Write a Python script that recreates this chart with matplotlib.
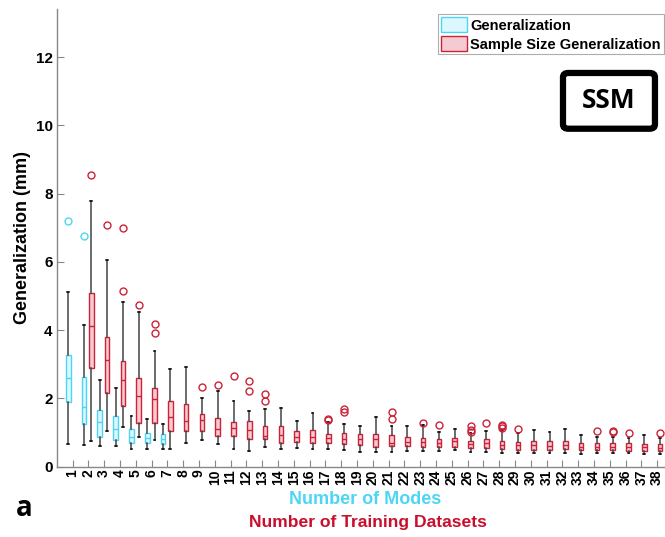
import matplotlib
matplotlib.use('Agg')
import matplotlib.pyplot as plt
from matplotlib.patches import Patch, FancyBboxPatch

# Generalization vs number of modes (cyan)
modes = [1, 2, 3, 4, 5, 6, 7]
gen_whislo = [0.66, 0.64, 0.61, 0.61, 0.51, 0.51, 0.51]
gen_q1 = [1.89, 1.24, 0.88, 0.78, 0.69, 0.69, 0.66]
gen_med = [2.59, 1.74, 1.32, 1.10, 0.86, 0.83, 0.80]
gen_q3 = [3.27, 2.62, 1.66, 1.50, 1.10, 1.00, 0.95]
gen_whishi = [5.13, 4.15, 2.54, 2.31, 1.49, 1.39, 1.24]
gen_fliers = [[7.20], [6.75], [], [], [], [], []]

# Sample size generalization vs number of training datasets (red)
datasets = list(range(2, 39))
ss_whislo = [0.76, 1.05, 1.17, 0.88, 0.78, 0.51, 0.69, 0.78, 0.66, 0.51, 0.45, 0.57,
             0.51, 0.55, 0.51, 0.51, 0.49, 0.43, 0.44, 0.44, 0.46, 0.46, 0.46, 0.48,
             0.43, 0.43, 0.41, 0.39, 0.41, 0.39, 0.39, 0.38, 0.39, 0.39, 0.39, 0.38, 0.37]
ss_q1 = [2.88, 2.15, 1.78, 1.27, 1.29, 1.05, 1.04, 1.05, 0.90, 0.90, 0.80, 0.81,
         0.70, 0.72, 0.69, 0.69, 0.66, 0.63, 0.59, 0.60, 0.61, 0.59, 0.59, 0.58,
         0.56, 0.54, 0.53, 0.49, 0.49, 0.49, 0.51, 0.49, 0.48, 0.48, 0.47, 0.46, 0.45]
ss_med = [4.12, 3.12, 2.54, 2.08, 1.97, 1.47, 1.33, 1.38, 1.10, 1.14, 1.08, 0.90,
          0.93, 0.86, 0.88, 0.83, 0.80, 0.80, 0.80, 0.69, 0.72, 0.72, 0.70, 0.75,
          0.67, 0.69, 0.64, 0.63, 0.63, 0.61, 0.64, 0.59, 0.59, 0.58, 0.59, 0.57, 0.56]
ss_q3 = [5.08, 3.79, 3.10, 2.59, 2.30, 1.93, 1.83, 1.53, 1.42, 1.32, 1.34, 1.20,
         1.19, 1.06, 1.07, 0.95, 0.98, 0.95, 0.96, 0.92, 0.88, 0.85, 0.80, 0.84,
         0.75, 0.80, 0.76, 0.72, 0.75, 0.74, 0.76, 0.69, 0.69, 0.69, 0.69, 0.67, 0.66]
ss_whishi = [7.79, 6.06, 4.84, 4.54, 3.40, 2.85, 2.92, 2.00, 2.22, 1.93, 1.62, 1.68,
             1.71, 1.33, 1.56, 1.32, 1.24, 1.20, 1.47, 1.18, 1.18, 1.22, 1.03, 1.11,
             0.98, 1.05, 1.08, 0.98, 1.08, 1.01, 1.10, 0.92, 0.86, 0.86, 0.85, 0.92, 0.84]
ss_fliers = [[8.56], [7.09], [5.16, 7.00], [4.75], [3.92, 4.19], [], [], [2.33], [2.39],
             [2.66], [2.23, 2.52], [1.93, 2.14], [], [], [], [1.38, 1.40], [1.60, 1.68],
             [], [], [1.40, 1.59], [], [1.29], [1.22], [], [1.03, 1.08, 1.18], [1.28],
             [1.13, 1.18, 1.23], [1.10], [], [], [], [], [1.05], [1.01, 1.04], [1.00],
             [], [0.99]]

tick_labels = [str(i) for i in range(1, 39)]

CYAN_EDGE = '#4dd6f4'
CYAN_FACE = '#dcf7fd'
RED_EDGE = '#cc2238'
RED_FACE = '#f5cad1'
WHISK = '#444444'

plt.rcParams['font.family'] = ['Liberation Sans', 'DejaVu Sans']
plt.rcParams['font.weight'] = 'bold'


def make_stats(lo, q1, med, q3, hi, fl):
    return [dict(whislo=a, q1=b, med=c, q3=d, whishi=e, fliers=f)
            for a, b, c, d, e, f in zip(lo, q1, med, q3, hi, fl)]


def draw(ax, stats, pos, edge, face):
    ax.bxp(stats, positions=pos, widths=0.3, capwidths=0.12, patch_artist=True,
           showfliers=True, manage_ticks=False,
           boxprops=dict(facecolor=face, edgecolor=edge, linewidth=1.0),
           medianprops=dict(color=edge, linewidth=1.0),
           whiskerprops=dict(color=WHISK, linewidth=1.1),
           capprops=dict(color='black', linewidth=1.1),
           flierprops=dict(marker='o', markerfacecolor='none', markeredgecolor=edge,
                           markersize=5, markeredgewidth=1.0))


fig = plt.figure(figsize=(6.65, 5.37), dpi=100)
ax = fig.add_axes([0.0853, 0.1309, 0.9147, 0.8529])

draw(ax, make_stats(gen_whislo, gen_q1, gen_med, gen_q3, gen_whishi, gen_fliers),
     [m - 0.27 for m in modes], CYAN_EDGE, CYAN_FACE)
draw(ax, make_stats(ss_whislo, ss_q1, ss_med, ss_q3, ss_whishi, ss_fliers),
     [d + 0.19 for d in datasets], RED_EDGE, RED_FACE)

ax.set_xlim(0, 38.5)
ax.set_ylim(0, 13.42)
ax.set_xticks(range(1, 39))
ax.set_xticklabels(tick_labels, rotation=90, fontsize=10, fontweight='bold')
ax.set_yticks([0, 2, 4, 6, 8, 10, 12])
ax.set_yticklabels(['0', '2', '4', '6', '8', '10', '12'], fontsize=11, fontweight='bold')
ax.tick_params(direction='in', length=5, width=0.8, color='#888888', pad=3)
ax.tick_params(axis='x', pad=2)
for s in ['top', 'right']:
    ax.spines[s].set_visible(False)
for s in ['left', 'bottom']:
    ax.spines[s].set_color('#888888')
    ax.spines[s].set_linewidth(1.0)

ax.set_ylabel('Generalization (mm)', fontsize=13, fontweight='bold')
ax.yaxis.set_label_coords(-0.043, 0.5)

fig.text(365 / 665, 1 - 499 / 537, 'Number of Modes', color='#4dd6f4',
         fontsize=13, fontweight='bold', ha='center', va='center')
fig.text(368 / 665, 1 - 523 / 537, 'Number of Training Datasets', color='#c8102e',
         fontsize=12.6, fontweight='bold', ha='center', va='center')
fig.text(24 / 665, 1 - 509 / 537, 'a', family='Open Sans', fontsize=20,
         fontweight='bold', ha='center', va='center')

handles = [Patch(facecolor=CYAN_FACE, edgecolor=CYAN_EDGE, label='Generalization'),
           Patch(facecolor=RED_FACE, edgecolor=RED_EDGE, label='Sample Size Generalization')]
leg = ax.legend(handles=handles, loc='upper right', bbox_to_anchor=(0.998, 0.988),
                fontsize=10.5, frameon=True, fancybox=False, handlelength=1.75,
                handleheight=1.2, handletextpad=0.25, borderpad=0.2, labelspacing=0.25,
                borderaxespad=0)
leg.get_frame().set_edgecolor('#999999')
leg.get_frame().set_linewidth(0.8)
for t in leg.get_texts():
    t.set_fontweight('bold')

# SSM badge
fig.patches.append(FancyBboxPatch((0.8466, 0.7603), 0.1383, 0.1038,
                                  boxstyle='round,pad=0,rounding_size=0.008',
                                  transform=fig.transFigure, facecolor='white',
                                  edgecolor='black', linewidth=4.5, figure=fig))
fig.text(609 / 665, 1 - 100 / 537, 'SSM', family='Open Sans', fontsize=19,
         fontweight='bold', ha='center', va='center')

fig.savefig('out.png', dpi=100)
